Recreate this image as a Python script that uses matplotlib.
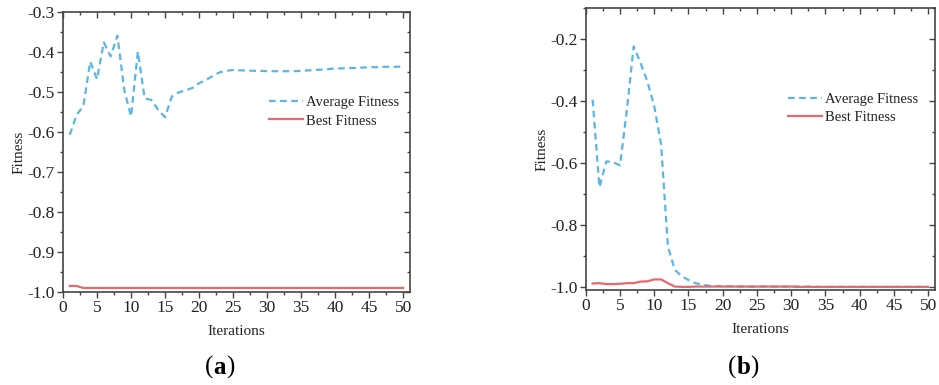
import matplotlib
matplotlib.use("Agg")
import matplotlib.pyplot as plt
from matplotlib.ticker import MultipleLocator

iterations = list(range(1, 51))

avg_a = [-0.607, -0.557, -0.535, -0.424, -0.468, -0.376, -0.411, -0.359, -0.495, -0.561,
         -0.399, -0.516, -0.520, -0.545, -0.563, -0.511, -0.501, -0.496, -0.490, -0.478,
         -0.470, -0.460, -0.451, -0.447, -0.445, -0.446, -0.446, -0.447, -0.447, -0.448,
         -0.448, -0.448, -0.448, -0.448, -0.447, -0.446, -0.445, -0.444, -0.443, -0.441,
         -0.441, -0.440, -0.440, -0.439, -0.438, -0.438, -0.437, -0.437, -0.437, -0.436]
best_a = [-0.985, -0.985, -0.990] + [-0.990] * 47

avg_b = [-0.396, -0.678, -0.595, -0.598, -0.608, -0.430, -0.224, -0.277, -0.337, -0.417,
         -0.540, -0.870, -0.945, -0.965, -0.978, -0.988, -0.993, -0.996, -0.997, -0.998,
         -0.998, -0.998, -0.999, -0.999, -0.999, -0.999, -0.999, -0.999, -0.999, -0.999,
         -0.999, -0.999, -0.999, -1.000, -1.000, -1.000, -1.000, -1.000, -1.000, -1.000,
         -1.000, -1.000, -1.000, -1.000, -1.000, -1.000, -1.000, -1.000, -1.000, -1.000]
best_b = [-0.989, -0.988, -0.991, -0.991, -0.990, -0.988, -0.988, -0.983, -0.982, -0.976,
          -0.976, -0.988, -0.999, -1.000, -1.000, -0.999, -0.999, -0.999, -0.999, -0.999,
          -0.999, -0.999, -0.999, -0.999, -0.999, -0.999, -0.999, -0.999, -0.999, -0.999,
          -1.000, -1.000, -1.000, -1.000, -1.000, -1.000, -1.000, -1.000, -1.000, -1.000,
          -1.000, -1.000, -1.000, -1.000, -1.000, -1.000, -1.000, -1.000, -1.000, -1.000]

labels = ["Average Fitness", "Best Fitness"]
panel_labels = ["a", "b"]

plt.rcParams['font.family'] = ['Liberation Serif', 'DejaVu Serif']

BLUE = "#5ab6e6"
RED = "#e8696b"
SPINE = "#444444"

fig = plt.figure(figsize=(9.39, 3.85), dpi=100)
ax_a = fig.add_axes([0.0671, 0.2416, 0.3695, 0.7272])
ax_b = fig.add_axes([0.6238, 0.2468, 0.3720, 0.7325])


def style(ax, ylim, ymajor, yminor, yfmt):
    ax.set_xlim(0, 51)
    ax.set_ylim(*ylim)
    ax.xaxis.set_major_locator(MultipleLocator(5))
    ax.xaxis.set_minor_locator(MultipleLocator(2.5))
    ax.yaxis.set_major_locator(MultipleLocator(ymajor))
    ax.yaxis.set_minor_locator(MultipleLocator(yminor))
    ax.yaxis.set_major_formatter(matplotlib.ticker.FormatStrFormatter(yfmt))
    for s in ax.spines.values():
        s.set_color(SPINE)
        s.set_linewidth(1.2)
    ax.tick_params(which='both', direction='out', top=False, right=False,
                   color=SPINE, labelsize=12.5, pad=2, labelcolor='#222222')
    ax.tick_params(which='major', length=4, width=1.0)
    ax.tick_params(which='minor', length=2.5, width=1.0)
    sx = ax.secondary_xaxis('top')
    sx.xaxis.set_major_locator(MultipleLocator(5))
    sx.xaxis.set_minor_locator(MultipleLocator(2.5))
    sx.tick_params(which='both', direction='in', labeltop=False, color=SPINE)
    sx.tick_params(which='major', length=4, width=1.0)
    sx.tick_params(which='minor', length=2.5, width=1.0)
    sx.spines['top'].set_visible(False)
    sy = ax.secondary_yaxis('right')
    sy.yaxis.set_major_locator(MultipleLocator(ymajor))
    sy.yaxis.set_minor_locator(MultipleLocator(yminor))
    sy.tick_params(which='both', direction='in', labelright=False, color=SPINE)
    sy.tick_params(which='major', length=4, width=1.0)
    sy.tick_params(which='minor', length=2.5, width=1.0)
    sy.spines['right'].set_visible(False)
    ax.set_xlabel("Iterations", fontsize=11, labelpad=6, color='#222222')
    ax.set_ylabel("Fitness", fontsize=11, labelpad=1, color='#222222')


for ax, avg, best, lab, ylim, ym, ymin, fmt, lx, ly in [
    (ax_a, avg_a, best_a, panel_labels[0], (-1.0, -0.3), 0.1, 0.05, '%.1f', 0.595, 0.70),
    (ax_b, avg_b, best_b, panel_labels[1], (-1.01, -0.1), 0.2, 0.1, '%.1f', 0.58, 0.70),
]:
    ax.plot(iterations, avg, color=BLUE, lw=1.6, ls=(0, (3, 2)), label=labels[0])
    ax.plot(iterations, best, color=RED, lw=1.6, label=labels[1])
    style(ax, ylim, ym, ymin, fmt)
    ax.legend(loc='upper left', bbox_to_anchor=(lx, ly), frameon=False,
              fontsize=10.5, handlelength=2.3, handletextpad=0.2,
              borderpad=0, borderaxespad=0, labelspacing=0.35,
              labelcolor='#222222')

fig.text(0.227, 0.045, "(", fontsize=18, ha='right', va='center')
fig.text(0.227, 0.045, "a", fontsize=18, fontweight='bold', ha='left', va='center')
fig.text(0.227 + 0.014, 0.045, ")", fontsize=18, ha='left', va='center')
fig.text(0.784, 0.045, "(", fontsize=18, ha='right', va='center')
fig.text(0.784, 0.045, "b", fontsize=18, fontweight='bold', ha='left', va='center')
fig.text(0.784 + 0.015, 0.045, ")", fontsize=18, ha='left', va='center')

fig.savefig("out.png", dpi=100)
